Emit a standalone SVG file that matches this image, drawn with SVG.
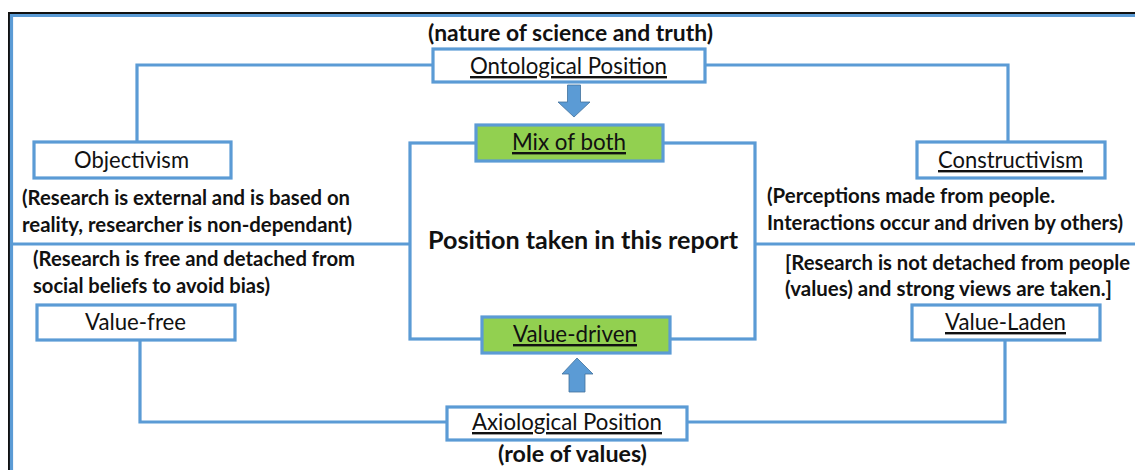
<svg xmlns="http://www.w3.org/2000/svg" width="1135" height="470" viewBox="0 0 1135 470">
  <style>
    .wire { fill: none; stroke: #5B9BD5; stroke-width: 3.2; }
    .box { fill: #FFFFFF; stroke: #5B9BD5; stroke-width: 3.2; }
    .green { fill: #92D050; stroke: #5B9BD5; stroke-width: 3.2; }
    .lbl { font-family: Lato, "Liberation Sans", sans-serif; font-size: 24px; fill: #111; }
    .u { text-decoration: underline; }
    .note { font-family: Lato, "Liberation Sans", sans-serif; font-size: 20.5px; font-weight: bold; fill: #111; }
    .head { font-family: Lato, "Liberation Sans", sans-serif; font-size: 22px; font-weight: bold; fill: #111; }
    .arrow { fill: #5B9BD5; stroke: #41719C; stroke-width: 0.8; }
  </style>

  <rect width="1135" height="470" fill="#FFFFFF"/>

  <!-- outer frame -->
  <g id="frame">
    <path d="M9,470 V13 H1135" fill="none" stroke="#111" stroke-width="2"/>
    <path d="M11.5,470 V15.5 H1135" class="wire"/>
  </g>

  <!-- connectors -->
  <g id="connectors">
    <path class="wire" d="M433,65 H137 V142"/>
    <path class="wire" d="M705,65 H1008 V142"/>
    <path class="wire" d="M11.5,244 H410"/>
    <path class="wire" d="M755,244 H1135"/>
    <path class="wire" d="M140,340 V422 H447"/>
    <path class="wire" d="M687,422 H1005 V340"/>
    <path class="arrow" d="M567.5,85 H580.5 V102 H590 L574,117 L558,102 H567.5 Z"/>
    <path class="arrow" d="M569,392 V374 H562 L577,358 L593,374 H585 V392 Z"/>
  </g>

  <!-- titles -->
  <text class="head" x="570.5" y="41" text-anchor="middle" textLength="285" lengthAdjust="spacingAndGlyphs">(nature of science and truth)</text>
  <text class="head" x="572.5" y="462" text-anchor="middle" textLength="149" lengthAdjust="spacingAndGlyphs">(role of values)</text>

  <g id="ontological">
    <rect class="box" x="433" y="49" width="272" height="33"/>
    <text class="lbl u" x="568.5" y="74" text-anchor="middle" textLength="197" lengthAdjust="spacingAndGlyphs">Ontological Position</text>
  </g>

  <g id="objectivism">
    <rect class="box" x="34" y="142" width="197" height="36"/>
    <text class="lbl" x="131.5" y="168" text-anchor="middle" textLength="115" lengthAdjust="spacingAndGlyphs">Objectivism</text>
    <text class="note" x="22" y="205" textLength="328" lengthAdjust="spacingAndGlyphs">(Research is external and is based on</text>
    <text class="note" x="22" y="232" textLength="330" lengthAdjust="spacingAndGlyphs">reality, researcher is non-dependant)</text>
  </g>

  <g id="constructivism">
    <rect class="box" x="917" y="142" width="188" height="36"/>
    <text class="lbl u" x="1010.5" y="168" text-anchor="middle" textLength="145" lengthAdjust="spacingAndGlyphs">Constructivism</text>
    <text class="note" x="767" y="203" textLength="288" lengthAdjust="spacingAndGlyphs">(Perceptions made from people.</text>
    <text class="note" x="767" y="230" textLength="356" lengthAdjust="spacingAndGlyphs">Interactions occur and driven by others)</text>
  </g>

  <g id="position">
    <rect class="box" x="410" y="143" width="345" height="196"/>
    <text x="583" y="249" text-anchor="middle" font-family="Lato, 'Liberation Sans', sans-serif" font-size="25" font-weight="bold" fill="#111" textLength="310" lengthAdjust="spacingAndGlyphs">Position taken in this report</text>
  </g>

  <g id="mix-of-both">
    <rect class="green" x="476" y="125" width="187" height="36"/>
    <text class="lbl u" x="569" y="150" text-anchor="middle" textLength="114" lengthAdjust="spacingAndGlyphs">Mix of both</text>
  </g>

  <g id="value-driven">
    <rect class="green" x="482" y="317" width="188" height="36"/>
    <text class="lbl u" x="575" y="342" text-anchor="middle" textLength="124" lengthAdjust="spacingAndGlyphs">Value-driven</text>
  </g>

  <g id="value-free">
    <text class="note" x="33" y="266" textLength="322" lengthAdjust="spacingAndGlyphs">(Research is free and detached from</text>
    <text class="note" x="33" y="293" textLength="237" lengthAdjust="spacingAndGlyphs">social beliefs to avoid bias)</text>
    <rect class="box" x="37" y="305" width="198" height="35"/>
    <text class="lbl" x="135.5" y="330" text-anchor="middle" textLength="101" lengthAdjust="spacingAndGlyphs">Value-free</text>
  </g>

  <g id="value-laden">
    <text class="note" x="785" y="270" textLength="345" lengthAdjust="spacingAndGlyphs">[Research is not detached from people</text>
    <text class="note" x="785" y="296" textLength="327" lengthAdjust="spacingAndGlyphs">(values) and strong views are taken.]</text>
    <rect class="box" x="912" y="305" width="188" height="35"/>
    <text class="lbl u" x="1005.5" y="330" text-anchor="middle" textLength="121" lengthAdjust="spacingAndGlyphs">Value-Laden</text>
  </g>

  <g id="axiological">
    <rect class="box" x="447" y="407" width="240" height="33"/>
    <text class="lbl u" x="567" y="430" text-anchor="middle" textLength="190" lengthAdjust="spacingAndGlyphs">Axiological Position</text>
  </g>
</svg>
